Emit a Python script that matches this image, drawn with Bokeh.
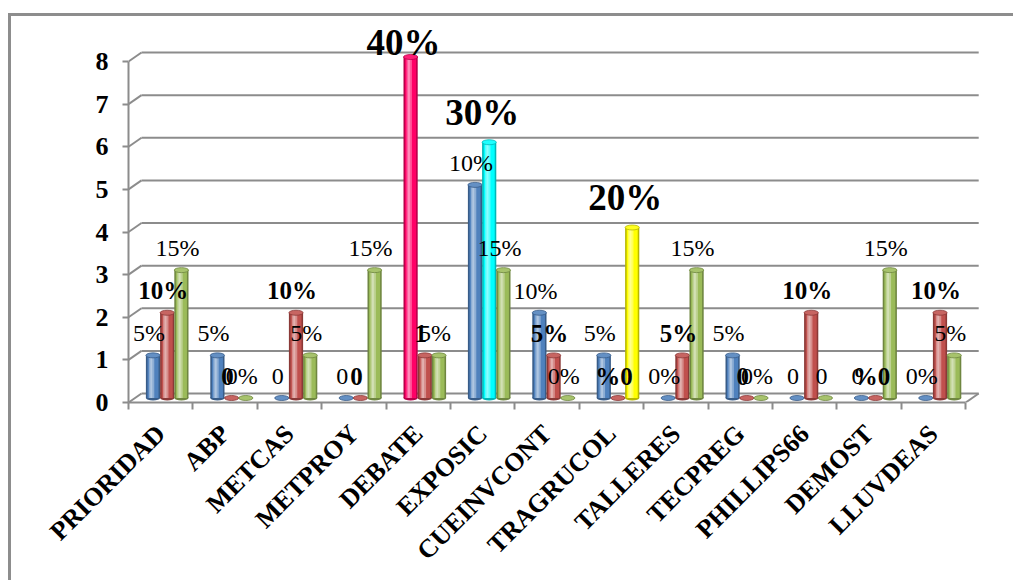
import math
from bokeh.plotting import figure
from bokeh.models import Range1d, FixedTicker, InlineStyleSheet
from bokeh.core.properties import value
from bokeh.embed import file_html
from bokeh.resources import INLINE

# ---------------- data ----------------
categories = ["PRIORIDAD", "ABP", "METCAS", "METPROY", "DEBATE", "EXPOSIC",
              "CUEINVCONT", "TRAGRUCOL", "TALLERES", "TECPREG", "PHILLIPS66",
              "DEMOST", "LLUVDEAS"]
serie1 = [1, 1, 0, 0, 8, 5, 2, 1, 0, 1, 0, 0, 0]
serie2 = [2, 0, 2, 0, 1, 6, 1, 0, 1, 0, 2, 0, 2]
serie3 = [3, 0, 1, 3, 1, 3, 0, 4, 3, 0, 0, 3, 1]
labels1 = ["5%", "5%", "0", "0", "40%", "10%", "10%", "5%", "0%", "5%", "0", "0", "0%"]
labels2 = ["10%", "0", "10%", "0", "1", "30%", "5%", "%0", "5%", "0", "10%", "%0", "10%"]
labels3 = ["15%", "0%", "5%", "15%", "5%", "15%", "0%", "20%", "15%", "0%", "0", "15%", "5%"]
y_ticks = [0, 1, 2, 3, 4, 5, 6, 7, 8]
# highlighted data points: (series, category) -> colour
highlight = {(0, 4): "#FF0066", (1, 5): "#00FFFF", (2, 7): "#FFFF00"}

series = [serie1, serie2, serie3]
labels = [labels1, labels2, labels3]
series_colors = ["#4F81BD", "#C0504D", "#9BBB59"]
label_styles = ["normal", "bold", "normal"]

# ---------------- geometry (pixels -> data units) ----------------
FR_L, FR_T = 128, 20          # frame offset inside the canvas (px)
FR_W, FR_H = 862, 382         # frame size (px)
n = len(categories)
unit_x = 64.4                 # px per category
unit_y = 42.625               # px per y unit
x_lo = -0.5
x_hi = x_lo + FR_W / unit_x
y_hi = FR_H / unit_y

DX = 13 / unit_x              # back wall depth offset
DY = 9 / unit_y
MDX = DX / 2                  # bars sit at mid depth
MDY = DY / 2
BW = 14.2 / unit_x            # bar width
CAP = 5                       # cap ellipse height (px)
GRID = "#8c8c8c"
FONT = "Liberation Serif"


def shade(hex_color, f):
    """f<0 darkens, f>0 lightens."""
    h = hex_color.lstrip("#")
    r, g, b = (int(h[i:i + 2], 16) for i in (0, 2, 4))
    if f < 0:
        r, g, b = (int(c * (1 + f)) for c in (r, g, b))
    else:
        r, g, b = (int(c + (255 - c) * f) for c in (r, g, b))
    return "#%02x%02x%02x" % (r, g, b)


p = figure(frame_width=FR_W, frame_height=FR_H, output_backend="svg",
           toolbar_location=None,
           x_range=Range1d(x_lo, x_hi), y_range=Range1d(0, y_hi),
           min_border_left=FR_L, min_border_right=23,
           min_border_top=FR_T, min_border_bottom=178,
           background_fill_color="white", border_fill_color="white")
p.outline_line_color = None
p.xgrid.visible = False
p.ygrid.visible = False

# ---------------- walls / floor ----------------
x_left, x_right = -0.5, n - 0.5
p.segment(x0=[x_left + DX] * len(y_ticks), y0=[t + DY for t in y_ticks],
          x1=[x_right + DX] * len(y_ticks), y1=[t + DY for t in y_ticks],
          line_color=GRID, line_width=2)
p.segment(x0=[x_left] * len(y_ticks), y0=y_ticks,
          x1=[x_left + DX] * len(y_ticks), y1=[t + DY for t in y_ticks],
          line_color=GRID, line_width=2)
p.segment(x0=[x_right], y0=[0], x1=[x_right + DX], y1=[DY],
          line_color=GRID, line_width=2)

# ---------------- bars (cylinders) ----------------
for k, vals in enumerate(series):
    xs, tops, cols = [], [], []
    for i, v in enumerate(vals):
        xs.append(i + MDX + (k - 1) * BW)
        tops.append(v + MDY)
        cols.append(highlight.get((k, i), series_colors[k]))
    dark = [shade(c, -0.28) for c in cols]
    light = [shade(c, 0.35) for c in cols]
    lighter = [shade(c, 0.55) for c in cols]
    nz = [j for j, v in enumerate(vals) if v > 0]
    bx = [xs[j] for j in nz]
    bt = [tops[j] for j in nz]
    p.ellipse(x=bx, y=[MDY] * len(nz), width=BW, height=CAP, height_units="screen",
              fill_color=[dark[j] for j in nz], line_color=None)
    p.vbar(x=bx, bottom=MDY, top=bt, width=BW,
           fill_color=[dark[j] for j in nz], line_color=None)
    p.vbar(x=bx, bottom=MDY, top=bt, width=BW * 0.78,
           fill_color=[cols[j] for j in nz], line_color=None)
    p.vbar(x=[x - BW * 0.1 for x in bx], bottom=MDY, top=bt, width=BW * 0.38,
           fill_color=[light[j] for j in nz], line_color=None)
    p.vbar(x=[x - BW * 0.12 for x in bx], bottom=MDY, top=bt, width=BW * 0.14,
           fill_color=[lighter[j] for j in nz], line_color=None)
    p.ellipse(x=xs, y=tops, width=BW, height=CAP, height_units="screen",
              fill_color=[shade(c, 0.12) for c in cols],
              line_color=dark, line_width=0.8)

# ---------------- data labels ----------------
LAB_DX = -4 / unit_x
LAB_DY = 22 / unit_y
BIG_DY = 30 / unit_y
TOP_LIMIT = 8 + 0.45
for k, vals in enumerate(series):
    norm_x, norm_y, norm_t = [], [], []
    big_x, big_y, big_t = [], [], []
    for i, v in enumerate(vals):
        x = i + MDX + (k - 1) * BW + LAB_DX
        if (k, i) in highlight:
            big_x.append(x - 3 / unit_x)
            big_y.append(min(v + MDY + BIG_DY, TOP_LIMIT))
            big_t.append(labels[k][i])
        else:
            norm_x.append(x)
            norm_y.append(v + MDY + LAB_DY)
            norm_t.append(labels[k][i])
    p.text(x=norm_x, y=norm_y, text=norm_t, text_font=value(FONT),
           text_font_size="25px" if label_styles[k] == "bold" else "24px",
           text_font_style=label_styles[k], text_color="black",
           text_align="center", text_baseline="middle")
    p.text(x=big_x, y=big_y, text=big_t, text_font=value(FONT),
           text_font_size="37px", text_font_style="bold", text_color="black",
           text_align="center", text_baseline="middle")

# ---------------- axes ----------------
ya = p.yaxis[0]
ya.ticker = FixedTicker(ticks=y_ticks)
ya.bounds = (0, max(y_ticks))
ya.axis_line_color = GRID
ya.axis_line_width = 2
ya.major_tick_line_color = GRID
ya.major_tick_line_width = 2
ya.major_tick_out = 6
ya.major_tick_in = 0
ya.minor_tick_line_color = None
ya.major_label_text_font = FONT
ya.major_label_text_font_style = "bold"
ya.major_label_text_font_size = "26px"
ya.major_label_text_color = "black"
ya.major_label_standoff = 14

xa = p.xaxis[0]
xa.ticker = FixedTicker(ticks=list(range(n)),
                        minor_ticks=[i - 0.5 for i in range(n + 1)])
xa.bounds = (x_left, x_right)
xa.major_label_overrides = {i: c for i, c in enumerate(categories)}
xa.major_label_orientation = math.pi / 4
xa.major_tick_line_color = None
xa.major_tick_out = 0
xa.major_tick_in = 0
xa.minor_tick_line_color = GRID
xa.minor_tick_line_width = 2
xa.minor_tick_out = 7
xa.minor_tick_in = 0
xa.axis_line_color = GRID
xa.axis_line_width = 2
xa.major_label_text_font = FONT
xa.major_label_text_font_style = "bold"
xa.major_label_text_font_size = "26px"
xa.major_label_text_color = "black"
xa.major_label_standoff = 20

# ---------------- chart-area border (page decoration) ----------------
p.stylesheets = [InlineStyleSheet(css=(
    ":host{position:relative;}"
    ":host::after{content:'';position:absolute;left:8px;top:13px;right:0;"
    "bottom:0;border-left:3px solid #8d8d8d;border-top:3px solid #8d8d8d;"
    "pointer-events:none;z-index:10;}"))]

open("out.html", "w").write(file_html(p, INLINE))
